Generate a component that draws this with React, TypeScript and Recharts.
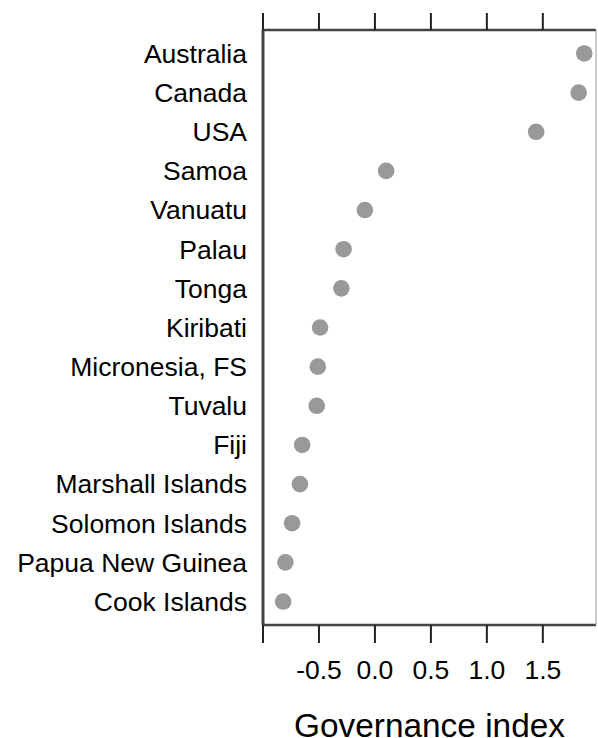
import React from 'react';
import { ScatterChart, Scatter, XAxis, YAxis, CartesianGrid } from 'recharts';

const countries = [
  'Australia', 'Canada', 'USA', 'Samoa', 'Vanuatu', 'Palau', 'Tonga', 'Kiribati',
  'Micronesia, FS', 'Tuvalu', 'Fiji', 'Marshall Islands', 'Solomon Islands',
  'Papua New Guinea', 'Cook Islands',
];
const governance = [
  1.87, 1.82, 1.44, 0.1, -0.09, -0.28, -0.3, -0.49, -0.51, -0.52, -0.65, -0.67, -0.74, -0.8, -0.82,
];
const xTicks = [-1, -0.5, 0, 0.5, 1, 1.5];
const xLabels = ['', '-0.5', '0.0', '0.5', '1.0', '1.5'];

const data = countries.map((c, i) => ({ country: c, idx: i + 1, value: governance[i] }));
const yTicks = countries.map((_, i) => i + 1);

const Dot = (props: any) => {
  const { cx, cy } = props;
  if (cx == null || cy == null) return null;
  return <circle cx={cx} cy={cy} r={8.3} fill="#999999" />;
};

export default function App() {
  const fontFamily = '"Liberation Sans", Arial, Helvetica, sans-serif';
  const xDomain: [number, number] = [-1, 1.975];
  return (
    <div style={{ position: 'absolute', left: 0, top: 0, fontFamily }}>
      <ScatterChart
        width={598}
        height={738}
        margin={{ top: 0, right: 0, left: 0, bottom: 0 }}
        style={{ fontFamily }}
      >
        <CartesianGrid vertical={false} stroke="#e8e8e8" strokeWidth={2} />
        <XAxis
          xAxisId="top"
          orientation="top"
          type="number"
          dataKey="value"
          domain={xDomain}
          ticks={xTicks}
          allowDataOverflow
          height={30}
          tickSize={17}
          tickFormatter={() => ''}
          axisLine={{ stroke: '#444', strokeWidth: 2.5 }}
          tickLine={{ stroke: '#222', strokeWidth: 2 }}
        />
        <XAxis
          xAxisId="bottom"
          orientation="bottom"
          type="number"
          dataKey="value"
          domain={xDomain}
          ticks={xTicks}
          allowDataOverflow
          height={113}
          tickSize={18}
          tickMargin={17}
          tickFormatter={(v: number) => xLabels[xTicks.indexOf(v)] ?? ''}
          tick={{ fontSize: 26.5, fill: '#000' }}
          axisLine={{ stroke: '#444', strokeWidth: 2.5 }}
          tickLine={{ stroke: '#222', strokeWidth: 2 }}
          label={{ value: 'Governance index', position: 'insideBottom', offset: 1.5, fontSize: 33.4, fill: '#000' }}
        />
        <YAxis
          yAxisId="left"
          type="number"
          dataKey="idx"
          domain={[0.4, 15.6]}
          ticks={yTicks}
          reversed
          interval={0}
          width={263}
          tickSize={0}
          tickMargin={16}
          tickLine={false}
          tickFormatter={(v: number) => countries[v - 1] ?? ''}
          tick={{ fontSize: 26.5, fill: '#000' }}
          axisLine={{ stroke: '#444', strokeWidth: 3 }}
        />
        <YAxis
          yAxisId="right"
          orientation="right"
          type="number"
          domain={[0.4, 15.6]}
          reversed
          width={2}
          tick={false}
          tickLine={false}
          axisLine={{ stroke: '#999', strokeWidth: 1 }}
        />
        <Scatter
          data={data}
          xAxisId="bottom"
          yAxisId="left"
          dataKey="value"
          shape={Dot}
          isAnimationActive={false}
        />
      </ScatterChart>
    </div>
  );
}
